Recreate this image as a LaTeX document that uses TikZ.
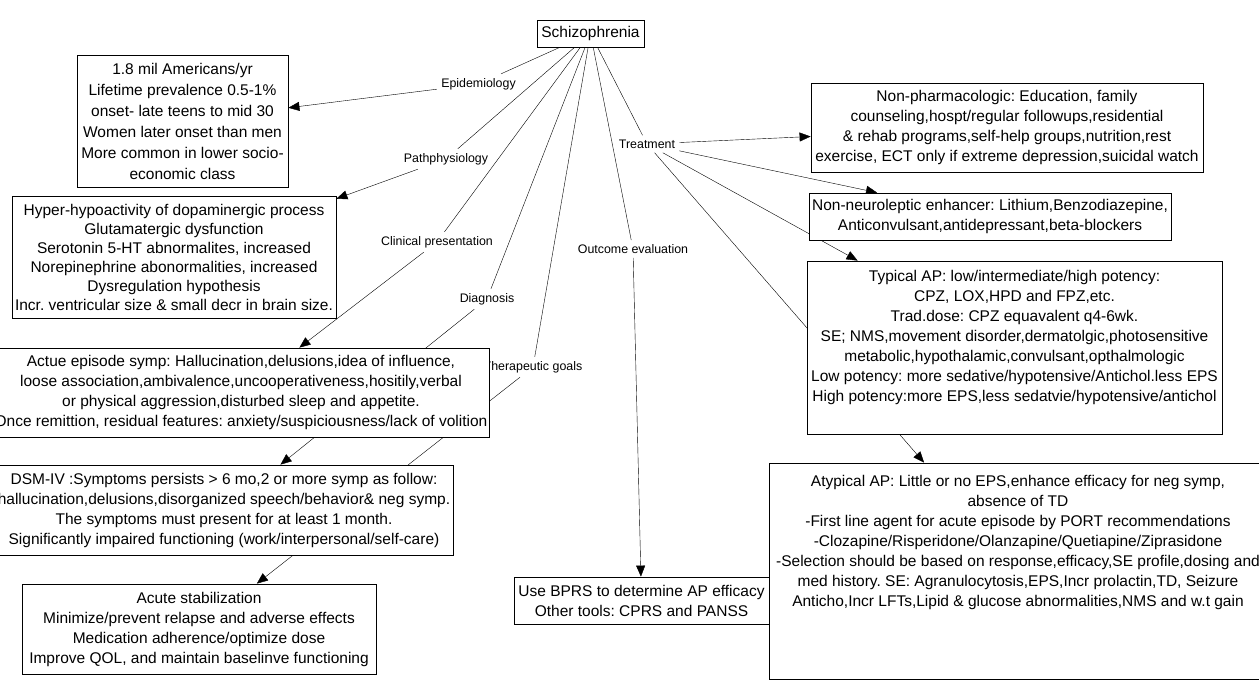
\documentclass[tikz,border=0pt]{standalone}
\usepackage{fontspec}
\setmainfont{Liberation Sans}
\usetikzlibrary{arrows.meta,backgrounds}
\frenchspacing

\tikzset{
  concept/.style={draw, fill=white, align=center, inner sep=0pt,
    font=\fontsize{15.5}{20}\selectfont},
  linkword/.style={inner sep=4pt, font=\fontsize{12.4}{14}\selectfont},
  toarrow/.style={-{Triangle[length=11pt,width=9pt]}}
}

\begin{document}
\begin{tikzpicture}[x=1pt, y=-1pt, line width=0.8pt]
\useasboundingbox (0,0) rectangle (1259,699);

% linking words
\node[linkword] (epi) at (478.5,84) {Epidemiology};
\node[linkword] (patho) at (446,159) {Pathphysiology};
\node[linkword] (clin) at (437,242) {Clinical presentation};
\node[linkword] (diag) at (487,299) {Diagnosis};
\node[linkword] (ther) at (533,367) {Therapeutic goals};
\node[linkword] (outc) at (633,249) {Outcome evaluation};
\node[linkword] (treat) at (647,144) {Treatment};

% concepts
\node[concept, minimum width=107, minimum height=27] (schizo) at (590.5,33.5) {Schizophrenia};

\node[concept, minimum width=211, minimum height=132, font=\fontsize{15.5}{21}\selectfont] (epibox) at (182.5,121)
  {1.8 mil Americans/yr\\ Lifetime prevalence 0.5-1\%\\ onset- late teens to mid 30\\
   Women later onset than men\\ More common in lower socio-\\ economic class};

\node[concept, minimum width=324, minimum height=122, font=\fontsize{15.5}{19}\selectfont] (pathobox) at (174,257)
  {Hyper-hypoactivity of dopaminergic process\\ Glutamatergic dysfunction\\
   Serotonin 5-HT abnormalites, increased\\ Norepinephrine abonormalities, increased\\
   Dysregulation hypothesis\\ Incr. ventricular size \& small decr in brain size.};

\node[concept, minimum width=496, minimum height=89] (clinbox) at (241,392.5)
  {Actue episode symp: Hallucination,delusions,idea of influence,\\
   loose association,ambivalence,uncooperativeness,hositily,verbal\\
   or physical aggression,disturbed sleep and appetite.\\
   Once remittion, residual features: anxiety/suspiciousness/lack of volition};

\node[concept, minimum width=458, minimum height=90] (dsmbox) at (224,510)
  {DSM-IV :Symptoms persists > 6 mo,2 or more symp as follow:\\
   hallucination,delusions,disorganized speech/behavior\& neg symp.\\
   The symptoms must present for at least 1 month.\\
   Significantly impaired functioning (work/interpersonal/self-care)};

\node[concept, minimum width=354, minimum height=90] (acutebox) at (199,629)
  {Acute stabilization\\ Minimize/prevent relapse and adverse effects\\
   Medication adherence/optimize dose\\ Improve QOL, and maintain baselinve functioning};

\node[concept, minimum width=255, minimum height=47] (bprsbox) at (641.5,600.5)
  {Use BPRS to determine AP efficacy\\ Other tools: CPRS and PANSS};

\node[concept, minimum width=392, minimum height=89] (nonpharm) at (1007,127.5)
  {Non-pharmacologic: Education, family\\ counseling,hospt/regular followups,residential\\
   \& rehab programs,self-help groups,nutrition,rest\\
   exercise, ECT only if extreme depression,suicidal watch};

\node[concept, minimum width=362, minimum height=47] (nonneuro) at (990,216.5)
  {Non-neuroleptic enhancer: Lithium,Benzodiazepine,\\ Anticonvulsant,antidepressant,beta-blockers};

\node[concept] (typbox) at (1014.5,347.5)
  {\parbox[c][173pt][t]{415pt}{\centering\vspace{9.5pt}%
   Typical AP: low/intermediate/high potency:\\ CPZ, LOX,HPD and FPZ,etc.\\
   Trad.dose: CPZ equavalent q4-6wk.\\ SE; NMS,movement disorder,dermatolgic,photosensitive\\
   metabolic,hypothalamic,convulsant,opthalmologic\\
   Low potency: more sedative/hypotensive/Antichol.less EPS\\
   High potency:more EPS,less sedatvie/hypotensive/antichol}};

\node[concept] (atybox) at (1018,571)
  {\parbox[c][216pt][t]{498pt}{\centering\vspace{12pt}%
   Atypical AP: Little or no EPS,enhance efficacy for neg symp,\\ absence of TD\\
   -First line agent for acute episode by PORT recommendations\\
   -Clozapine/Risperidone/Olanzapine/Quetiapine/Ziprasidone\\
   -Selection should be based on response,efficacy,SE profile,dosing and\\
   med history. SE: Agranulocytosis,EPS,Incr prolactin,TD, Seizure\\
   Anticho,Incr LFTs,Lipid \& glucose abnormalities,NMS and w.t gain}};

% connectors
\begin{scope}[on background layer]
  \foreach \lab/\tgt in {epi/epibox, patho/pathobox, clin/clinbox, diag/dsmbox, ther/acutebox, outc/bprsbox}{
    \draw (schizo) -- (\lab);
    \draw[toarrow] (\lab) -- (\tgt);
  }
  \draw (schizo) -- (treat);
  \foreach \tgt in {nonpharm, nonneuro, typbox, atybox}
    \draw[toarrow] (treat) -- (\tgt);
\end{scope}
\end{tikzpicture}
\end{document}
